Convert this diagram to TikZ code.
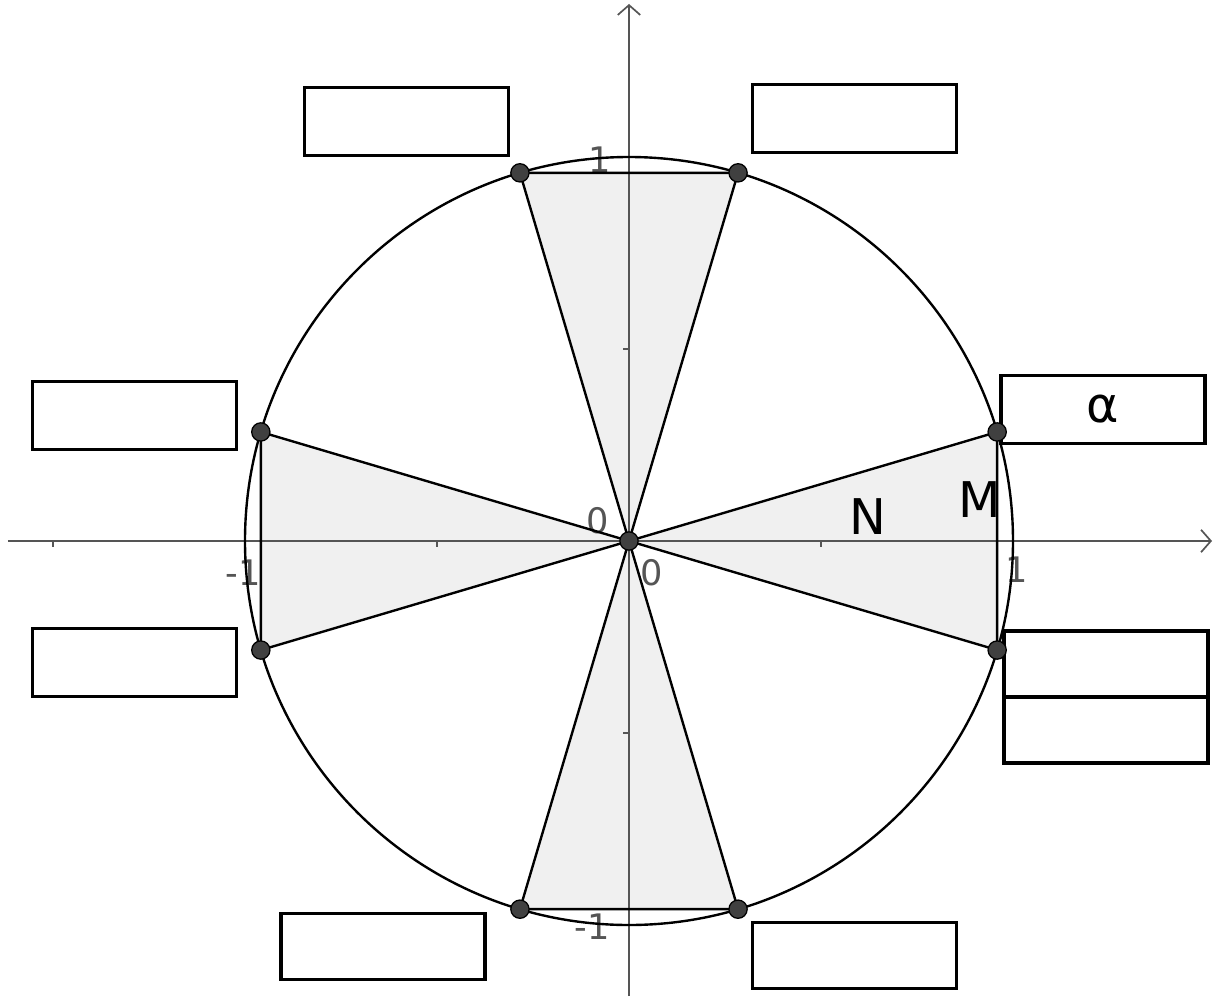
\documentclass[tikz,border=0pt]{standalone}
\usepackage{fontspec}
\setmainfont{DejaVu Sans}
\usetikzlibrary{arrows.meta}
\definecolor{axisgray}{HTML}{555555}
\definecolor{sectorgray}{HTML}{F0F0F0}
\definecolor{dotgray}{HTML}{404040}

\begin{document}
\begin{tikzpicture}[x=0.025cm,y=0.025cm,line width=1.7pt,
box/.style={draw,fill=white,line width=2.2pt,minimum width=5.1cm,minimum height=1.7cm,inner sep=0pt,font=\fontsize{35}{35}\selectfont},
ptdot/.style={circle,draw=black,fill=dotgray,line width=0.9pt,minimum size=13pt,inner sep=0pt},
axis/.style={axisgray,line width=1.2pt},
num/.style={text=axisgray,font=\fontsize{25}{25}\selectfont,inner sep=0pt},
lbl/.style={font=\fontsize{35}{35}\selectfont,inner sep=0pt}]
\useasboundingbox (-629,-455) rectangle (585,541);

\coordinate (O) at (0,0);
\foreach \a/\n in {16.5/M1,-16.5/M2,73.5/T1,106.5/T2,163.5/L1,196.5/L2,253.5/B1,286.5/B2}
  \coordinate (\n) at (\a:384);
\coordinate (xl) at (-621,0);
\coordinate (xr) at (583,0);
\coordinate (yb) at (0,-455);
\coordinate (yt) at (0,537);

% shaded sectors
\fill[sectorgray] (O) -- (M1) -- (M2) -- cycle;
\fill[sectorgray] (O) -- (L1) -- (L2) -- cycle;
\fill[sectorgray] (O) -- (T1) -- (T2) -- cycle;
\fill[sectorgray] (O) -- (B1) -- (B2) -- cycle;

% axes
\draw[axis,-{Straight Barb[length=7pt,width=16pt]}] (xl) -- (xr);
\draw[axis,-{Straight Barb[length=7pt,width=16pt]}] (yb) -- (yt);
\foreach \t in {-1.5,-1,-0.5,0.5,1}
  \draw[axis] (\t*384,0) -- ++(0,-6);
\foreach \t in {-1,-0.5,0.5,1}
  \draw[axis] (0,\t*384) -- ++(-6,0);

\node[num] (n0a) at (-31,20) {0};
\node[num] (n0b) at (23,-32) {0};
\node[num] (nxm) at (-386,-32) {-1};
\node[num] (nxp) at (388,-29) {1};
\node[num] (nyp) at (-29,381) {1};
\node[num] (nym) at (-37,-386) {-1};

\draw (O) circle[radius=384];
\draw (O) -- (M1) -- (M2) -- cycle;
\draw (O) -- (L1) -- (L2) -- cycle;
\draw (O) -- (T1) -- (T2) -- cycle;
\draw (O) -- (B1) -- (B2) -- cycle;

\node[lbl] (N) at (239,24) {N};
\node[lbl] (M) at (351,41) {M};

% answer boxes
\node[box] (b1) at (-222.5,419.5) {};
\node[box] (b2) at (225.5,422.5) {};
\node[box] (b3) at (-494.5,125.5) {};
\node[box] (b4) at (474,131.5) {α};
\node[box] (b5) at (-494.5,-121.5) {};
\node[box,minimum height=1.65cm] (b6) at (477,-123) {};
\node[box,minimum height=1.65cm] (b7) at (477,-189) {};
\node[box,minimum height=1.65cm] (b8) at (-246,-405.5) {};
\node[box,minimum height=1.65cm] (b9) at (225.5,-414.5) {};

\foreach \n in {O,M1,M2,T1,T2,L1,L2,B1,B2}
  \node[ptdot] at (\n) {};
\end{tikzpicture}
\end{document}
